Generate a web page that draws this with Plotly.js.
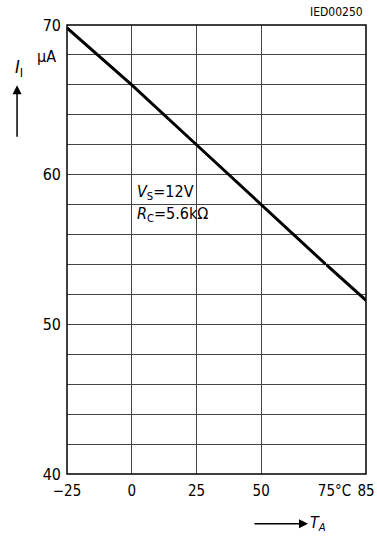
<!DOCTYPE html>
<html>
<head>
<meta charset="utf-8">
<script src="https://cdn.plot.ly/plotly-3.0.1.min.js"></script>
<style>html,body{margin:0;padding:0;background:#fff;}#chart{width:377px;height:536px;}</style>
</head>
<body>
<div id="chart"></div>
<script>
// Data (ambient temperature °C vs input current µA)
var tempMain = [-25, 0, 25, 50, 75];
var currentMain = [69.8, 66, 62, 58, 54];
var tempEnd = [75, 85];
var currentEnd = [54, 51.6];
var xTickVals = [-25, 0, 25, 50, 75];
var xTickText = ['\u221225', '0', '25', '50', '\u00a0\u00a0\u00a0\u00a075\u00b0C'];
var xEndTickVals = [85];
var xEndTickText = ['85'];
var yTickVals = [40, 50, 60, 70];

var FONT = '"Liberation Sans Narrow", "DejaVu Sans Condensed", "Arial Narrow", sans-serif';

var traces = [
  {x: tempMain, y: currentMain, xaxis: 'x', yaxis: 'y', mode: 'lines',
   line: {color: '#000', width: 3}, hoverinfo: 'skip'},
  {x: tempEnd, y: currentEnd, xaxis: 'x2', yaxis: 'y', mode: 'lines',
   line: {color: '#000', width: 3}, hoverinfo: 'skip'}
];

var gridColor = '#444';
function ann(x, y, text, size, extra) {
  var a = {xref: 'paper', yref: 'paper', x: x, y: y, text: text, showarrow: false,
           xanchor: 'center', yanchor: 'middle',
           font: {family: FONT, size: size, color: '#000'}};
  if (extra) for (var k in extra) a[k] = extra[k];
  return a;
}
var layout = {
  width: 377, height: 536,
  margin: {l: 67, r: 11, t: 25, b: 62},
  paper_bgcolor: '#fff', plot_bgcolor: '#fff',
  showlegend: false,
  font: {family: FONT, color: '#000', size: 15},
  xaxis: {
    domain: [0, 0.866], range: [-25, 75], anchor: 'y',
    tickmode: 'array', tickvals: xTickVals, ticktext: xTickText,
    showgrid: true, gridcolor: gridColor, gridwidth: 1,
    zeroline: false, showline: false, ticks: '', ticklabelstandoff: 6,
    tickfont: {family: FONT, size: 15, color: '#000'}
  },
  xaxis2: {
    domain: [0.866, 1], range: [75, 85], anchor: 'y',
    tickmode: 'array', tickvals: xEndTickVals, ticktext: xEndTickText,
    showgrid: false, zeroline: false, showline: false, ticks: '', ticklabelstandoff: 6,
    tickfont: {family: FONT, size: 15, color: '#000'}
  },
  yaxis: {
    range: [40, 70], anchor: 'x',
    tickmode: 'array', tickvals: yTickVals,
    showgrid: true, gridcolor: gridColor, gridwidth: 1,
    minor: {dtick: 2, showgrid: true, gridcolor: gridColor, gridwidth: 1, ticks: ''},
    zeroline: false, showline: false, ticks: '', ticklabelstandoff: 5,
    tickfont: {family: FONT, size: 16, color: '#000'}
  },
  shapes: [
    {type: 'rect', xref: 'paper', yref: 'paper', x0: 0, x1: 1, y0: 0, y1: 1,
     line: {color: '#000', width: 1.5}, fillcolor: 'rgba(0,0,0,0)'}
  ],
  annotations: [
    ann(0.903, 1.029, 'IED00250', 12),
    ann(-0.067, 0.929, '\u00b5A', 16),
    ann(-0.16, 0.905, '<i>I</i><sub>I</sub>', 18),
    {xref: 'paper', yref: 'paper', x: -0.167, y: 0.866, text: '', showarrow: true,
     ax: 0, ay: 53, arrowhead: 2, arrowsize: 1.2, arrowwidth: 1.5, arrowcolor: '#000'},
    ann(0.838, -0.111, '<i>T</i><sub><i>A</i></sub>', 16),
    {xref: 'paper', yref: 'paper', x: 0.806, y: -0.111, text: '', showarrow: true,
     ax: -55, ay: 0, arrowhead: 2, arrowsize: 1.2, arrowwidth: 1.5, arrowcolor: '#000'},
    ann(0.227, 0.628, '<i>V</i><sub>S</sub>=12V', 16, {xanchor: 'left'}),
    ann(0.227, 0.577, '<i>R</i><sub>C</sub>=5.6k\u03a9', 16, {xanchor: 'left'})
  ]
};

Plotly.newPlot('chart', traces, layout, {displayModeBar: false, staticPlot: true});
</script>
</body>
</html>
